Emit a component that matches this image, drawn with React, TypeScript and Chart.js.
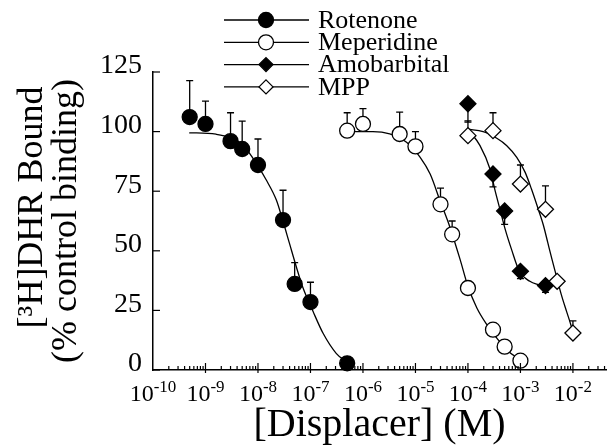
import React, { useEffect, useRef } from "react";
import { Chart, registerables } from "chart.js";

Chart.register(...registerables);

const FONT = "'Liberation Serif', 'Times New Roman', serif";

// ---- axes ----
const xDecades = [-10, -9, -8, -7, -6, -5, -4, -3, -2];
const xMinorMultipliers = [2, 3, 4, 5, 6, 7, 8, 9];
const yTickValues = [0, 25, 50, 75, 100, 125];
const xMinLog = -10;
const xMaxLog = -1.37;

const seriesNames = ["Rotenone", "Meperidine", "Amobarbital", "MPP"];

// ---- Rotenone (filled circles, error bars upward) ----
const rotenoneConc = [5e-10, 1e-9, 3e-9, 5e-9, 1e-8, 3e-8, 5e-8, 1e-7, 5e-7];
const rotenoneBound = [106.1, 103.2, 96.0, 92.7, 86.0, 62.9, 36.1, 28.5, 2.8];
const rotenoneErrEnd = [121.4, 112.8, 107.9, 104.4, 96.9, 75.4, 45.0, 36.8, null];
const rotenoneCurveLogX = [-9.31, -8.8, -8.29, -7.97, -7.85, -7.65, -7.53, -7.4, -7.27, -7.15, -6.95, -6.76, -6.51, -6.32];
const rotenoneCurveY = [99.5, 98.9, 94.4, 84.5, 80.0, 71.3, 62.9, 53.1, 43.3, 34.9, 24.5, 15.4, 7.0, 3.5];

// ---- Meperidine (open circles, error bars upward) ----
const meperidineConc = [5e-7, 1e-6, 5e-6, 1e-5, 3e-5, 5e-5, 1e-4, 3e-4, 5e-4, 1e-3];
const meperidineBound = [100.4, 103.2, 99.0, 93.8, 69.5, 56.9, 34.4, 16.9, 9.8, 3.9];
const meperidineErrEnd = [107.9, 109.6, 108.2, 100.0, 76.3, 62.5, null, null, null, null];
const meperidineCurveLogX = [-6.3, -5.81, -5.49, -5.17, -4.91, -4.72, -4.53, -4.34, -4.15, -4.0, -3.83, -3.64, -3.45, -3.26, -3.0];
const meperidineCurveY = [100.0, 100.0, 99.0, 95.5, 89.2, 82.2, 70.9, 59.7, 46.4, 35.1, 26.0, 19.0, 13.4, 8.4, 4.2];

// ---- Amobarbital (filled diamonds, error bars downward) ----
const amobarbitalConc = [1e-4, 3e-4, 5e-4, 1e-3, 3e-3];
const amobarbitalBound = [111.7, 82.2, 66.7, 41.4, 35.4];
const amobarbitalErrEnd = [104.0, 76.8, 61.1, 38.3, 32.6];
const amobarbitalCurveLogX = [-4.0, -3.77, -3.58, -3.49, -3.39, -3.29, -3.17, -3.02, -2.82, -2.66, -2.53];
const amobarbitalCurveY = [101.0, 94.1, 84.3, 75.9, 67.4, 59.0, 50.6, 41.4, 37.2, 35.8, 35.1];

// ---- MPP (open diamonds, error bars upward) ----
const mppConc = [1e-4, 3e-4, 1e-3, 3e-3, 5e-3, 1e-2];
const mppBound = [98.3, 100.4, 78.0, 67.4, 37.2, 15.5];
const mppErrEnd = [104.5, 107.9, 86.0, 77.2, null, 20.6];
const mppCurveLogX = [-4.0, -3.71, -3.45, -3.26, -3.07, -2.91, -2.79, -2.66, -2.56, -2.48, -2.4, -2.31, -2.22, -2.12, -2.04, -2.0];
const mppCurveY = [101.0, 100.0, 97.2, 94.1, 89.2, 82.9, 75.9, 67.4, 60.5, 53.5, 46.5, 39.0, 31.5, 24.5, 19.0, 16.0];

type Pt = { x: number; y: number };

const toPoints = (conc: number[], vals: number[]): Pt[] =>
  conc.map((c, i) => ({ x: Math.log10(c), y: vals[i] }));
const toCurve = (lx: number[], vals: number[]): Pt[] =>
  lx.map((v, i) => ({ x: v, y: vals[i] }));

const legendItems = [
  { label: seriesNames[0], style: "circle", fill: "#000" },
  { label: seriesNames[1], style: "circle", fill: "#fff" },
  { label: seriesNames[2], style: "diamond", fill: "#000" },
  { label: seriesNames[3], style: "diamond", fill: "#fff" },
];

function drawMarker(ctx: CanvasRenderingContext2D, style: string, fill: string, x: number, y: number, r: number) {
  ctx.save();
  ctx.beginPath();
  if (style === "circle") {
    ctx.arc(x, y, r, 0, Math.PI * 2);
  } else {
    ctx.moveTo(x, y - r);
    ctx.lineTo(x + r, y);
    ctx.lineTo(x, y + r);
    ctx.lineTo(x - r, y);
    ctx.closePath();
  }
  ctx.fillStyle = fill;
  ctx.fill();
  ctx.lineWidth = 1.3;
  ctx.strokeStyle = "#000";
  ctx.stroke();
  ctx.restore();
}

const errorBarPlugin = {
  id: "errorBars",
  beforeDatasetsDraw(chart: any) {
    const { ctx } = chart;
    const ys = chart.scales.y;
    const xs = chart.scales.x;
    ctx.save();
    ctx.strokeStyle = "#000";
    ctx.lineWidth = 1.3;
    chart.data.datasets.forEach((ds: any) => {
      if (!ds.errorEnds) return;
      ds.data.forEach((p: Pt, i: number) => {
        const e = ds.errorEnds[i];
        if (e === null || e === undefined) return;
        const px = xs.getPixelForValue(p.x);
        const py = ys.getPixelForValue(p.y);
        const pe = ys.getPixelForValue(e);
        ctx.beginPath();
        ctx.moveTo(px, py);
        ctx.lineTo(px, pe);
        ctx.moveTo(px - 3.5, pe);
        ctx.lineTo(px + 3.5, pe);
        ctx.stroke();
      });
    });
    ctx.restore();
  },
};

const axisDecorPlugin = {
  id: "axisDecor",
  afterDraw(chart: any) {
    const { ctx } = chart;
    const xs = chart.scales.x;
    const ys = chart.scales.y;
    const left = chart.chartArea.left;
    const bottom = chart.chartArea.bottom;
    ctx.save();
    ctx.strokeStyle = "#000";
    ctx.lineWidth = 1.2;
    // y ticks (inward)
    yTickValues.forEach((v) => {
      const y = ys.getPixelForValue(v);
      ctx.beginPath();
      ctx.moveTo(left, y);
      ctx.lineTo(left + 7, y);
      ctx.stroke();
    });
    // x ticks (inward) major + minor
    for (let d = xMinLog; d <= Math.floor(xMaxLog); d++) {
      const xm = xs.getPixelForValue(d);
      if (d > xMinLog) {
        ctx.beginPath();
        ctx.moveTo(xm, bottom - 7);
        ctx.lineTo(xm, bottom + 3);
        ctx.stroke();
      }
      xMinorMultipliers.forEach((m) => {
        const lv = d + Math.log10(m);
        if (lv > xMaxLog) return;
        const x = xs.getPixelForValue(lv);
        ctx.beginPath();
        ctx.moveTo(x, bottom - 4);
        ctx.lineTo(x, bottom);
        ctx.stroke();
      });
    }
    // x tick labels 10^n
    ctx.fillStyle = "#000";
    ctx.textBaseline = "alphabetic";
    ctx.textAlign = "left";
    xDecades.forEach((d) => {
      const x = xs.getPixelForValue(d);
      const base = "10";
      const exp = "-" + Math.abs(d);
      ctx.font = `24px ${FONT}`;
      const wb = ctx.measureText(base).width;
      ctx.font = `17px ${FONT}`;
      const we = ctx.measureText(exp).width;
      const start = x - (wb + we) / 2;
      ctx.font = `24px ${FONT}`;
      ctx.fillText(base, start, bottom + 31);
      ctx.font = `17px ${FONT}`;
      ctx.fillText(exp, start + wb, bottom + 22);
    });
    ctx.restore();
  },
};

const legendPlugin = {
  id: "customLegend",
  afterDraw(chart: any) {
    const { ctx } = chart;
    ctx.save();
    legendItems.forEach((it, i) => {
      const y = 20 + i * 22.3;
      ctx.strokeStyle = "#000";
      ctx.lineWidth = 1.3;
      ctx.beginPath();
      ctx.moveTo(224, y);
      ctx.lineTo(309, y);
      ctx.stroke();
      drawMarker(ctx, it.style, it.fill, 266, y, it.style === "circle" ? 7.5 : 7);
      ctx.fillStyle = "#000";
      ctx.font = `26px ${FONT}`;
      ctx.textBaseline = "middle";
      ctx.textAlign = "left";
      ctx.fillText(it.label, 318, y + 1);
    });
    ctx.restore();
  },
};

export default function App() {
  const ref = useRef<HTMLCanvasElement>(null);

  useEffect(() => {
    if (!ref.current) return;
    const curveStyle = {
      type: "line",
      showLine: true,
      pointRadius: 0,
      borderColor: "#000",
      borderWidth: 1.3,
      cubicInterpolationMode: "monotone",
      fill: false,
      order: 2,
      clip: false,
    };
    const pointStyle = (style: string, fill: string, r: number) => ({
      type: "line",
      showLine: false,
      pointStyle: style,
      pointRadius: r,
      pointBackgroundColor: fill,
      pointBorderColor: "#000",
      pointBorderWidth: 1.3,
      borderColor: "#000",
      backgroundColor: fill,
      order: 0,
      clip: false,
    });

    const chart = new Chart(ref.current, {
      type: "line",
      data: {
        datasets: [
          { ...curveStyle, label: seriesNames[0] + " fit", data: toCurve(rotenoneCurveLogX, rotenoneCurveY) },
          { ...curveStyle, label: seriesNames[1] + " fit", data: toCurve(meperidineCurveLogX, meperidineCurveY) },
          { ...curveStyle, label: seriesNames[2] + " fit", data: toCurve(amobarbitalCurveLogX, amobarbitalCurveY) },
          { ...curveStyle, label: seriesNames[3] + " fit", data: toCurve(mppCurveLogX, mppCurveY) },
          { ...pointStyle("circle", "#000", 7.5), label: seriesNames[0], data: toPoints(rotenoneConc, rotenoneBound), errorEnds: rotenoneErrEnd },
          { ...pointStyle("circle", "#fff", 7.5), label: seriesNames[1], data: toPoints(meperidineConc, meperidineBound), errorEnds: meperidineErrEnd },
          { ...pointStyle("rectRot", "#fff", 8), label: seriesNames[3], data: toPoints(mppConc, mppBound), errorEnds: mppErrEnd },
          { ...pointStyle("rectRot", "#000", 8), label: seriesNames[2], data: toPoints(amobarbitalConc, amobarbitalBound), errorEnds: amobarbitalErrEnd },
        ] as any,
      },
      options: {
        animation: false,
        responsive: false,
        devicePixelRatio: 1,
        layout: { autoPadding: false, padding: { top: 72, right: 1, left: 0, bottom: 0 } },
        plugins: {
          legend: { display: false },
          tooltip: { enabled: false },
        },
        scales: {
          x: {
            type: "linear",
            min: xMinLog,
            max: xMaxLog,
            grid: { display: false, drawTicks: false },
            border: { display: true, color: "#000", width: 1.5 },
            ticks: { display: false },
            title: {
              display: true,
              text: "[Displacer] (M)",
              color: "#000",
              font: { family: FONT, size: 40, lineHeight: 1.0 },
              padding: { top: 0, bottom: 2 },
            },
            afterFit: (s: any) => {
              s.height = 77;
            },
          },
          y: {
            type: "linear",
            min: 0,
            max: 125,
            grid: { display: false, drawTicks: false },
            border: { display: true, color: "#000", width: 1.5 },
            ticks: {
              stepSize: 25,
              color: "#000",
              font: { family: FONT, size: 28 },
              padding: 11,
              labelOffset: -6,
            },
            title: {
              display: true,
              text: ["   [\u00B3H]DHR Bound", "(% control binding)"],
              color: "#000",
              font: { family: FONT, size: 36, lineHeight: 0.93 },
              padding: { top: 16, bottom: 0 },
            },
            afterFit: (s: any) => {
              s.width = 153;
            },
          },
        },
      } as any,
      plugins: [errorBarPlugin, axisDecorPlugin, legendPlugin],
    });
    return () => chart.destroy();
  }, []);

  return (
    <div style={{ position: "absolute", left: 0, top: 0, width: 607, height: 447, background: "#fff" }}>
      <canvas ref={ref} width={607} height={447} style={{ display: "block" }} />
    </div>
  );
}
